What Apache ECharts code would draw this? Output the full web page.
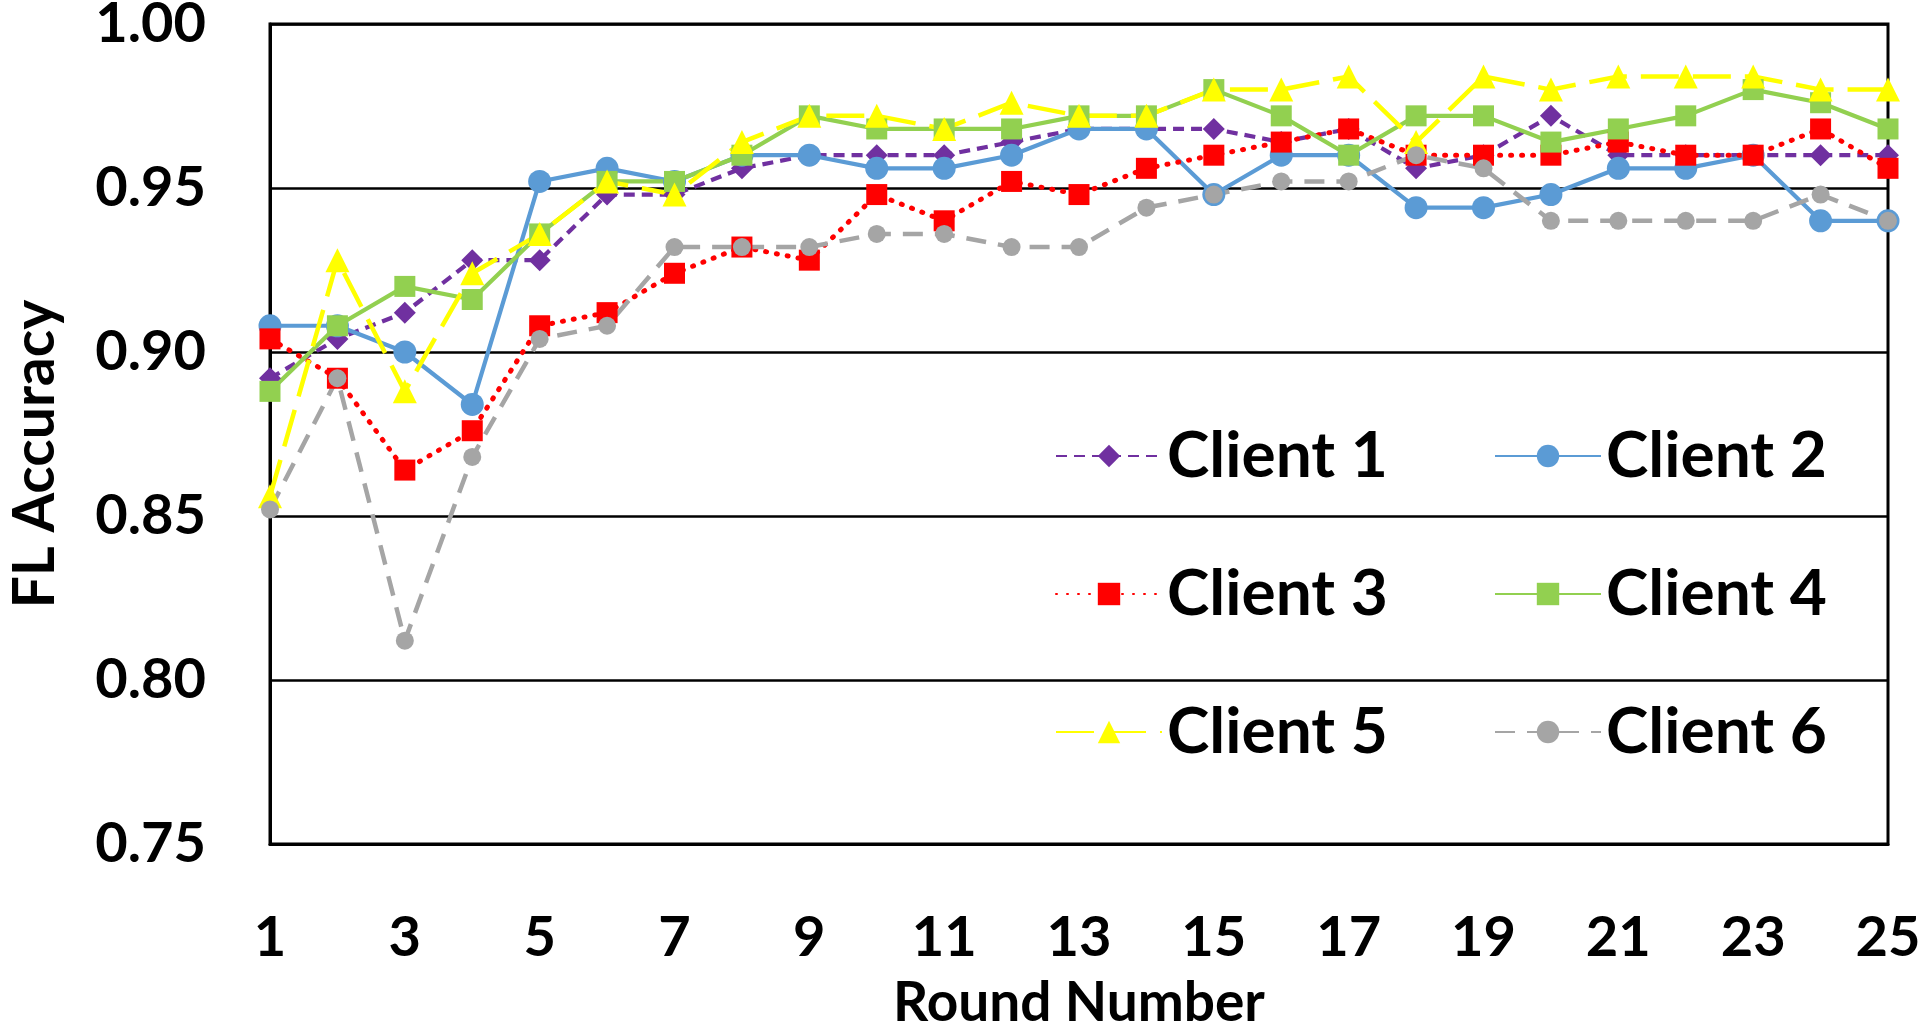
<!DOCTYPE html>
<html>
<head>
<meta charset="utf-8">
<script src="https://cdn.jsdelivr.net/npm/echarts@6/dist/echarts.min.js"></script>
<style>
  html, body { margin: 0; padding: 0; background: #fff; }
  #chart { width: 1920px; height: 1023px; }
</style>
</head>
<body>
<div id="chart"></div>
<script>
// round numbers on the x axis
var rounds = ['1', '2', '3', '4', '5', '6', '7', '8', '9', '10', '11', '12', '13',
  '14', '15', '16', '17', '18', '19', '20', '21', '22', '23', '24', '25']

// FL accuracy per client
var client1 = [0.892, 0.904, 0.912, 0.928, 0.928, 0.948, 0.948, 0.956, 0.960, 0.960, 0.960, 0.964, 0.968,
  0.968, 0.968, 0.964, 0.968, 0.956, 0.960, 0.972, 0.960, 0.960, 0.960, 0.960, 0.960]
var client2 = [0.908, 0.908, 0.900, 0.884, 0.952, 0.956, 0.952, 0.960, 0.960, 0.956, 0.956, 0.960, 0.968,
  0.968, 0.948, 0.960, 0.960, 0.944, 0.944, 0.948, 0.956, 0.956, 0.960, 0.940, 0.940]
var client3 = [0.904, 0.892, 0.864, 0.876, 0.908, 0.912, 0.924, 0.932, 0.928, 0.948, 0.940, 0.952, 0.948,
  0.956, 0.960, 0.964, 0.968, 0.960, 0.960, 0.960, 0.964, 0.960, 0.960, 0.968, 0.956]
var client4 = [0.888, 0.908, 0.920, 0.916, 0.936, 0.952, 0.952, 0.960, 0.972, 0.968, 0.968, 0.968, 0.972,
  0.972, 0.980, 0.972, 0.960, 0.972, 0.972, 0.964, 0.968, 0.972, 0.980, 0.976, 0.968]
var client5 = [0.856, 0.928, 0.888, 0.924, 0.936, 0.952, 0.948, 0.964, 0.972, 0.972, 0.968, 0.976, 0.972,
  0.972, 0.980, 0.980, 0.984, 0.964, 0.984, 0.980, 0.984, 0.984, 0.984, 0.980, 0.980]
var client6 = [0.852, 0.892, 0.812, 0.868, 0.904, 0.908, 0.932, 0.932, 0.932, 0.936, 0.936, 0.932, 0.932,
  0.944, 0.948, 0.952, 0.952, 0.960, 0.956, 0.940, 0.940, 0.940, 0.940, 0.948, 0.940]

var font = 'Lato'

function makeLine (name, data, color, symbol, size, dash, width, cap) {
  return {
    name: name,
    type: 'line',
    data: data,
    symbol: symbol,
    symbolSize: size,
    showAllSymbol: true,
    animation: false,
    itemStyle: { color: color },
    lineStyle: {
      color: color,
      width: width,
      type: dash,
      cap: cap || 'butt'
    },
    emphasis: { disabled: true }
  }
}

var myChart = echarts.init(document.getElementById('chart'))
var legendText = {
  color: '#000',
  fontFamily: font,
  fontWeight: 'bold',
  fontSize: 64,
  lineHeight: 70
}
var option = {
  backgroundColor: '#fff',
  grid: {
    left: 270,
    right: 32,
    top: 24,
    bottom: 179,
    outerBoundsMode: 'none',
    containLabel: false,
    show: true,
    borderColor: '#000',
    borderWidth: 3
  },
  legend: [{
    data: ['Client 1', 'Client 3', 'Client 5'],
    orient: 'vertical',
    left: 1055,
    top: 421,
    padding: 0,
    itemWidth: 106,
    itemHeight: 28,
    itemGap: 68,
    selectedMode: false,
    textStyle: legendText
  }, {
    data: ['Client 2', 'Client 4', 'Client 6'],
    orient: 'vertical',
    left: 1494,
    top: 421,
    padding: 0,
    itemWidth: 106,
    itemHeight: 28,
    itemGap: 68,
    selectedMode: false,
    textStyle: legendText
  }],
  xAxis: {
    type: 'category',
    data: rounds,
    boundaryGap: false,
    name: 'Round Number',
    nameLocation: 'middle',
    nameGap: 132,
    nameTextStyle: { color: '#000', fontFamily: font, fontWeight: 'bold', fontSize: 55 },
    axisLine: { lineStyle: { color: '#000', width: 3 } },
    axisTick: { show: false },
    axisLabel: {
      interval: 1,
      margin: 66,
      color: '#000',
      fontFamily: font,
      fontWeight: 'bold',
      fontSize: 56
    },
    splitLine: { show: false }
  },
  yAxis: {
    type: 'value',
    min: 0.75,
    max: 1.0,
    interval: 0.05,
    name: 'FL Accuracy',
    nameLocation: 'middle',
    nameGap: 206,
    nameTextStyle: {
      color: '#000',
      fontFamily: font,
      fontWeight: 'bold',
      fontSize: 57,
      padding: [0, 40, 0, 0]
    },
    axisLine: { show: true, lineStyle: { color: '#000', width: 3 } },
    axisTick: { show: false },
    axisLabel: {
      margin: 64,
      color: '#000',
      fontFamily: font,
      fontWeight: 'bold',
      fontSize: 56,
      formatter: function (v) { return v.toFixed(2) }
    },
    splitLine: { lineStyle: { color: '#000', width: 2.5 } }
  },
  series: [
    makeLine('Client 1', client1, '#7030A0', 'diamond', 22, [11, 7], 4.2),
    makeLine('Client 2', client2, '#5B9BD5', 'circle', 23, 'solid', 4.2),
    makeLine('Client 3', client3, '#FF0000', 'rect', 21, [1, 10], 5, 'round'),
    makeLine('Client 4', client4, '#92D050', 'rect', 21, 'solid', 4.2),
    makeLine('Client 5', client5, '#FFFF00', 'triangle', 24, [38, 14], 4.5),
    makeLine('Client 6', client6, '#A5A5A5', 'circle', 18, [20, 12], 4.5)
  ]
}
myChart.setOption(option, true)
window.addEventListener('resize', function () {
  myChart.resize()
})
</script>
</body>
</html>
